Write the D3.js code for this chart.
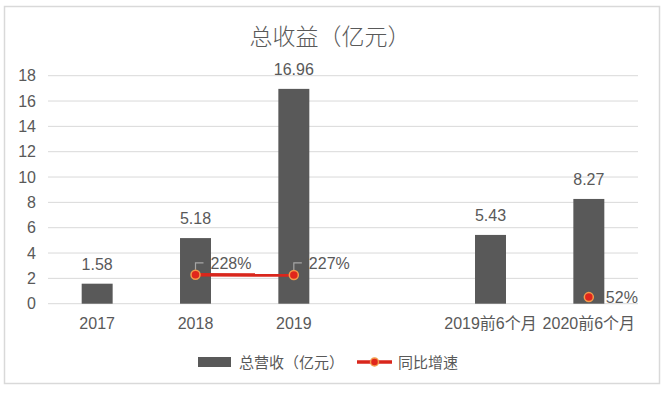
<!DOCTYPE html>
<html>
<head>
<meta charset="utf-8">
<script src="https://cdn.jsdelivr.net/npm/d3@7"></script>
<style>
  body { margin: 0; background: #fff; }
  svg text { font-family: "Liberation Sans", Arial, "Noto Sans CJK SC", sans-serif; fill: #595959; }
</style>
</head>
<body>
<svg id="chart" width="667" height="396"></svg>
<script>
// chart data
const categories = ["2017", "2018", "2019", "", "2019前6个月", "2020前6个月"];
const revenue = [1.58, 5.18, 16.96, null, 5.43, 8.27];
const growth = [null, 2.28, 2.27, null, null, 0.52];
const growthLabels = [null, "228%", "227%", null, null, "52%"];
const yTicks = [0, 2, 4, 6, 8, 10, 12, 14, 16, 18];

const svg = d3.select("#chart");
const margin = {left: 48, right: 29, top: 75.7, bottom: 92.3};
const W = 667, H = 396;

// outer frame
svg.append("rect")
  .attr("x", 4.5).attr("y", 6.5)
  .attr("width", 655).attr("height", 377)
  .attr("fill", "#fff")
  .attr("stroke", "#d9d9d9").attr("stroke-width", 1.5);

const keys = categories.map((c, i) => "c" + i);
const x = d3.scaleBand().domain(keys).range([margin.left, W - margin.right]).paddingInner(0).paddingOuter(0);
const y = d3.scaleLinear().domain([0, 18]).range([H - margin.bottom, margin.top]);
const barW = x.bandwidth() * 0.315;

// title
svg.append("text")
  .attr("x", 330).attr("y", 45)
  .attr("text-anchor", "middle")
  .style("font-size", "23px")
  .style("font-family", "'Noto Sans CJK SC', sans-serif")
  .style("font-weight", 300)
  .text("总收益（亿元）");

// grid
svg.append("g").selectAll("line")
  .data(yTicks).enter().append("line")
  .attr("x1", margin.left).attr("x2", W - margin.right)
  .attr("y1", d => y(d)).attr("y2", d => y(d))
  .attr("stroke", "#d9d9d9").attr("stroke-width", 1);

// y axis labels
const yAxis = d3.axisLeft(y).tickValues(yTicks).tickSize(0).tickPadding(10);
const yg = svg.append("g").attr("transform", `translate(${margin.left - 2},0)`).call(yAxis);
yg.select(".domain").remove();
yg.selectAll("text").style("font-size", "16px").attr("fill", "#595959");

// x axis labels
const xAxis = d3.axisBottom(x).tickSize(0).tickPadding(14).tickFormat((d, i) => categories[i]);
const xg = svg.append("g").attr("transform", `translate(0,${y(0)})`).call(xAxis);
xg.select(".domain").remove();
xg.selectAll("text").style("font-size", "16px").attr("fill", "#595959");

// bars
const barData = revenue.map((v, i) => ({k: keys[i], v: v})).filter(d => d.v != null);
svg.append("g").selectAll("rect")
  .data(barData).enter().append("rect")
  .attr("x", d => x(d.k) + x.bandwidth() / 2 - barW / 2)
  .attr("y", d => y(d.v))
  .attr("width", barW)
  .attr("height", d => y(0) - y(d.v))
  .attr("fill", "#595959");

svg.append("g").selectAll("text")
  .data(barData).enter().append("text")
  .attr("x", d => x(d.k) + x.bandwidth() / 2)
  .attr("y", d => y(d.v) - 14)
  .attr("text-anchor", "middle")
  .style("font-size", "16px")
  .text(d => d.v.toFixed(2));

// growth line
const gData = growth.map((v, i) => ({k: keys[i], v: v, label: growthLabels[i]}));
const line = d3.line()
  .defined(d => d.v != null)
  .x(d => x(d.k) + x.bandwidth() / 2)
  .y(d => y(d.v));
svg.append("path")
  .datum(gData)
  .attr("d", line)
  .attr("fill", "none")
  .attr("stroke", "#d9261c")
  .attr("stroke-width", 3.5);

const pts = gData.filter(d => d.v != null);
// leader lines for the labels that have them
pts.filter(d => d.label !== "52%").forEach(d => {
  const px = x(d.k) + x.bandwidth() / 2, py = y(d.v);
  svg.append("path")
    .attr("d", `M${px},${py - 5}V${py - 12}H${px + 8}`)
    .attr("fill", "none").attr("stroke", "#a6a6a6").attr("stroke-width", 1.2);
});
svg.append("g").selectAll("circle")
  .data(pts).enter().append("circle")
  .attr("cx", d => x(d.k) + x.bandwidth() / 2)
  .attr("cy", d => y(d.v))
  .attr("r", 4.5)
  .attr("fill", "#e0261c")
  .attr("stroke", "#f39a4a").attr("stroke-width", 1.5);
svg.append("g").selectAll("text")
  .data(pts).enter().append("text")
  .attr("x", d => x(d.k) + x.bandwidth() / 2 + (d.label === "52%" ? 17 : 15))
  .attr("y", d => y(d.v) + (d.label === "52%" ? 6 : -6))
  .style("font-size", "16px")
  .text(d => d.label);

// legend
const lg = svg.append("g");
lg.append("rect").attr("x", 198).attr("y", 357).attr("width", 33).attr("height", 10).attr("fill", "#595959");
lg.append("text").attr("x", 239).attr("y", 368).style("font-size", "15px")
  .style("font-family", "'Noto Sans CJK SC', sans-serif").text("总营收（亿元）");
lg.append("line").attr("x1", 357).attr("x2", 392).attr("y1", 362).attr("y2", 362)
  .attr("stroke", "#d9261c").attr("stroke-width", 3.5);
lg.append("circle").attr("cx", 374.5).attr("cy", 362).attr("r", 4)
  .attr("fill", "#e0261c").attr("stroke", "#f39a4a").attr("stroke-width", 1.5);
lg.append("text").attr("x", 398).attr("y", 368).style("font-size", "15px")
  .style("font-family", "'Noto Sans CJK SC', sans-serif").text("同比增速");
</script>
</body>
</html>
